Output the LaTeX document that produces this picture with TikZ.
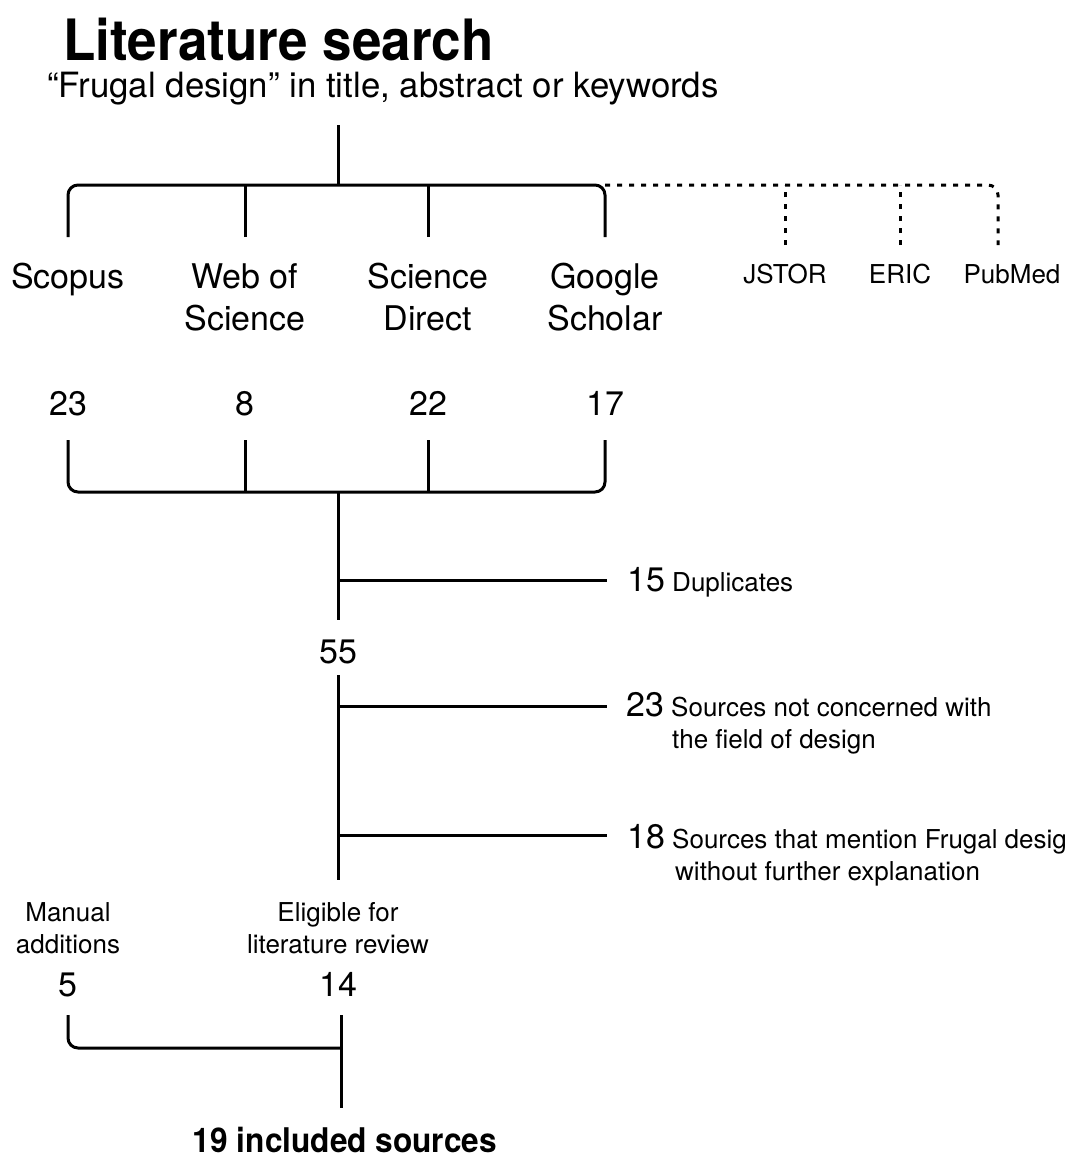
\documentclass[tikz,border=0pt]{standalone}
\usepackage{fontspec}
\setmainfont{TeX Gyre Heros}
\usepackage{graphicx}
\newcommand{\titlesize}{\fontsize{57}{60}\selectfont\bfseries}
\newcommand{\labsize}{\fontsize{34}{42}\selectfont}
\newcommand{\smallsize}{\fontsize{26}{32}\selectfont}
\tikzset{
  txt/.style={inner sep=0pt, anchor=base},
  lab/.style={txt, font=\labsize, align=center},
  small/.style={txt, font=\smallsize, align=center},
  rem/.style={txt, anchor=base west, font=\smallsize, align=left},
  bracket/.style={line width=3pt, rounded corners=10pt},
  dotbracket/.style={line width=3pt, rounded corners=10pt, dash pattern=on 5pt off 7pt}
}
\begin{document}
\begin{tikzpicture}[x=1pt, y=-1pt]
\useasboundingbox (0,0) rectangle (1081,1160);

% heading (two-line nodes sit on their last baseline)
\node[txt, anchor=base west, font=\titlesize] (title) at (63,60) {\scalebox{0.93}[1]{Literature search}};
\node[txt, anchor=base west, font=\fontsize{34.8}{42}\selectfont] (query) at (47,97) {“Frugal design” in title, abstract or keywords};

% databases
\node[lab] (scopus) at (68,288) {Scopus};
\node[lab] (wos) at (245,330) {Web of\\Science};
\node[lab] (scidir) at (428,330) {Science\\Direct};
\node[lab] (scholar) at (605,330) {Google\\Scholar};
\node[small] (jstor) at (785,283) {JSTOR};
\node[small] (eric) at (900,283) {ERIC};
\node[small] (pubmed) at (1012,283) {PubMed};

% hits
\node[lab] (n23) at (68,415) {23};
\node[lab] (n8) at (245,415) {8};
\node[lab] (n22) at (428,415) {22};
\node[lab] (n17) at (605,415) {17};

\coordinate (qdown) at (338,125);
\coordinate (jtop) at (338,185);
\coordinate (scopus-up) at (68,237);
\coordinate (wos-up) at (245,237);
\coordinate (scidir-up) at (428,237);
\coordinate (scholar-up) at (605,237);
\coordinate (jstor-up) at (785,245);
\coordinate (eric-up) at (900,245);
\coordinate (pubmed-up) at (998,245);

\draw[line width=3pt] (qdown) -- (jtop);
\draw[bracket] (scopus-up) |- (jtop) -| (scholar-up);
\draw[line width=3pt] (wos-up) -- (wos-up |- jtop);
\draw[line width=3pt] (scidir-up) -- (scidir-up |- jtop);
\draw[dotbracket] (scholar-up |- jtop) -| (pubmed-up);
\draw[dotbracket] (jstor-up) -- (jstor-up |- jtop);
\draw[dotbracket] (eric-up) -- (eric-up |- jtop);

% merge
\coordinate (jbot) at (338,492);
\coordinate (n23-dn) at (68,440);
\coordinate (n8-dn) at (245,440);
\coordinate (n22-dn) at (428,440);
\coordinate (n17-dn) at (605,440);
\draw[bracket] (n23-dn) |- (jbot) -| (n17-dn);
\draw[line width=3pt] (n8-dn) -- (n8-dn |- jbot);
\draw[line width=3pt] (n22-dn) -- (n22-dn |- jbot);

% screening
\node[rem] (dup) at (627,591) {{\labsize 15} Duplicates};
\node[lab] (n55) at (338,663) {55};
\node[rem] (field) at (626,748) {{\labsize 23} Sources not concerned with\\\hspace*{46pt}the field of design};
\node[rem] (mention) at (627,880) {{\labsize 18} Sources that mention Frugal desig\\\hspace*{48pt}without further explanation};

\coordinate (n55-up) at (338,620);
\coordinate (n55-dn) at (338,675);
\coordinate (elig-up) at (338,880);
\coordinate (b1) at (338,580);
\coordinate (b2) at (338,706);
\coordinate (b3) at (338,835);
\draw[line width=3pt] (jbot) -- (n55-up);
\draw[line width=3pt] (n55-dn) -- (elig-up);
\draw[line width=3pt] (b1) -- (b1 -| 607,0);
\draw[line width=3pt] (b2) -- (b2 -| 607,0);
\draw[line width=3pt] (b3) -- (b3 -| 607,0);

% result
\node[small] (manual) at (68,953) {Manual\\additions};
\node[small] (elig) at (338,953) {Eligible for\\literature review};
\node[lab] (n5) at (68,996) {5};
\node[lab] (n14) at (338,996) {14};

\coordinate (n5-dn) at (68,1015);
\coordinate (n14-dn) at (341,1015);
\coordinate (jres) at (341,1048);
\coordinate (res-up) at (341,1108);
\draw[bracket] (n5-dn) |- (jres);
\draw[line width=3pt] (n14-dn) -- (res-up);

\node[txt, font=\labsize\bfseries] (result) at (345,1152) {\scalebox{0.93}[1]{19 included sources}};
\end{tikzpicture}
\end{document}
